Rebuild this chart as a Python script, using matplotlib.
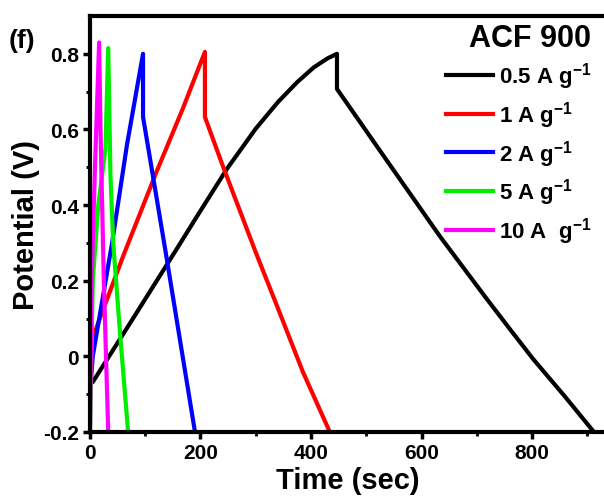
import numpy as np
import matplotlib.pyplot as plt

plt.rcParams['font.family'] = ['Liberation Sans', 'DejaVu Sans']
plt.rcParams['font.weight'] = 'bold'
plt.rcParams['mathtext.fontset'] = 'custom'
plt.rcParams['mathtext.rm'] = 'Liberation Sans:bold'
plt.rcParams['mathtext.it'] = 'Liberation Sans:bold'
plt.rcParams['mathtext.bf'] = 'Liberation Sans:bold'

# GCD curves (time in s, potential in V)
t_05 = [0, 5, 80, 157, 194, 248, 300, 340, 375, 405, 430, 447, 447,
        540, 633, 718, 760, 802, 860, 912]
v_05 = [-0.073, -0.068, 0.105, 0.284, 0.371, 0.496, 0.602, 0.672, 0.725, 0.764, 0.788, 0.800, 0.707,
        0.512, 0.318, 0.152, 0.072, -0.007, -0.107, -0.200]

t_1 = [0, 60, 121, 168, 208, 208, 240, 270, 300, 338, 385, 434]
v_1 = [0.03, 0.265, 0.49, 0.655, 0.805, 0.633, 0.505, 0.39, 0.275, 0.135, -0.04, -0.200]

t_2 = [0, 5, 40, 67, 96, 96, 136, 190]
v_2 = [-0.10, 0.0, 0.30, 0.56, 0.80, 0.633, 0.284, -0.200]

t_5 = [0, 5, 15, 28, 33, 37, 42, 55, 69]
v_5 = [-0.20, 0.20, 0.40, 0.55, 0.815, 0.48, 0.30, 0.05, -0.200]

t_10 = [0, 3, 9, 16.5, 19, 25, 33]
v_10 = [-0.20, 0.20, 0.50, 0.83, 0.60, 0.20, -0.200]

labels = ['0.5 A g$^{-1}$', '1 A g$^{-1}$', '2 A g$^{-1}$', '5 A g$^{-1}$', '10 A  g$^{-1}$']
colors = ['#000000', '#ff0000', '#0000ff', '#00ee00', '#ff00ff']

fig = plt.figure(figsize=(6.04, 5.02), dpi=100)
ax = fig.add_axes([0.149, 0.1375, 0.8553, 0.8287])

series = [(t_05, v_05), (t_1, v_1), (t_2, v_2), (t_5, v_5), (t_10, v_10)]
for (t, v), lab, c in zip(series, labels, colors):
    ax.plot(t, v, color=c, lw=3, label=lab, solid_joinstyle='round')

ax.set_xlim(0, 935)
ax.set_ylim(-0.2, 0.9)
ax.set_xticks([0, 200, 400, 600, 800])
ax.set_xticks([100, 300, 500, 700, 900], minor=True)
ax.set_yticks([-0.2, 0, 0.2, 0.4, 0.6, 0.8])
ax.set_yticklabels(['-0.2', '0', '0.2', '0.4', '0.6', '0.8'])
ax.set_yticks([-0.1, 0.1, 0.3, 0.5, 0.7], minor=True)

for s in ax.spines.values():
    s.set_linewidth(3)
ax.spines['right'].set_visible(False)
ax.tick_params(which='major', direction='out', length=5, width=2.5, labelsize=15, pad=3)
ax.tick_params(which='minor', direction='out', length=3, width=2)
for lbl in ax.get_xticklabels() + ax.get_yticklabels():
    lbl.set_fontweight('bold')

ax.set_xlabel('Time (sec)', fontsize=21, fontweight='bold', labelpad=3)
ax.set_ylabel('Potential (V)', fontsize=21, fontweight='bold', labelpad=2)

leg = ax.legend(title='ACF 900', loc='upper right', bbox_to_anchor=(0.997, 0.975),
                bbox_transform=fig.transFigure, frameon=False, fontsize=16,
                handlelength=2.1, handletextpad=0.27, labelspacing=0.35,
                borderpad=0, alignment='right')
leg.get_title().set_fontsize(22)
leg.get_title().set_fontweight('bold')
for h in leg.get_lines():
    h.set_linewidth(3)

fig.text(0.015, 0.905, '(f)', fontsize=19, fontweight='bold')

fig.savefig('out.png', dpi=100)
